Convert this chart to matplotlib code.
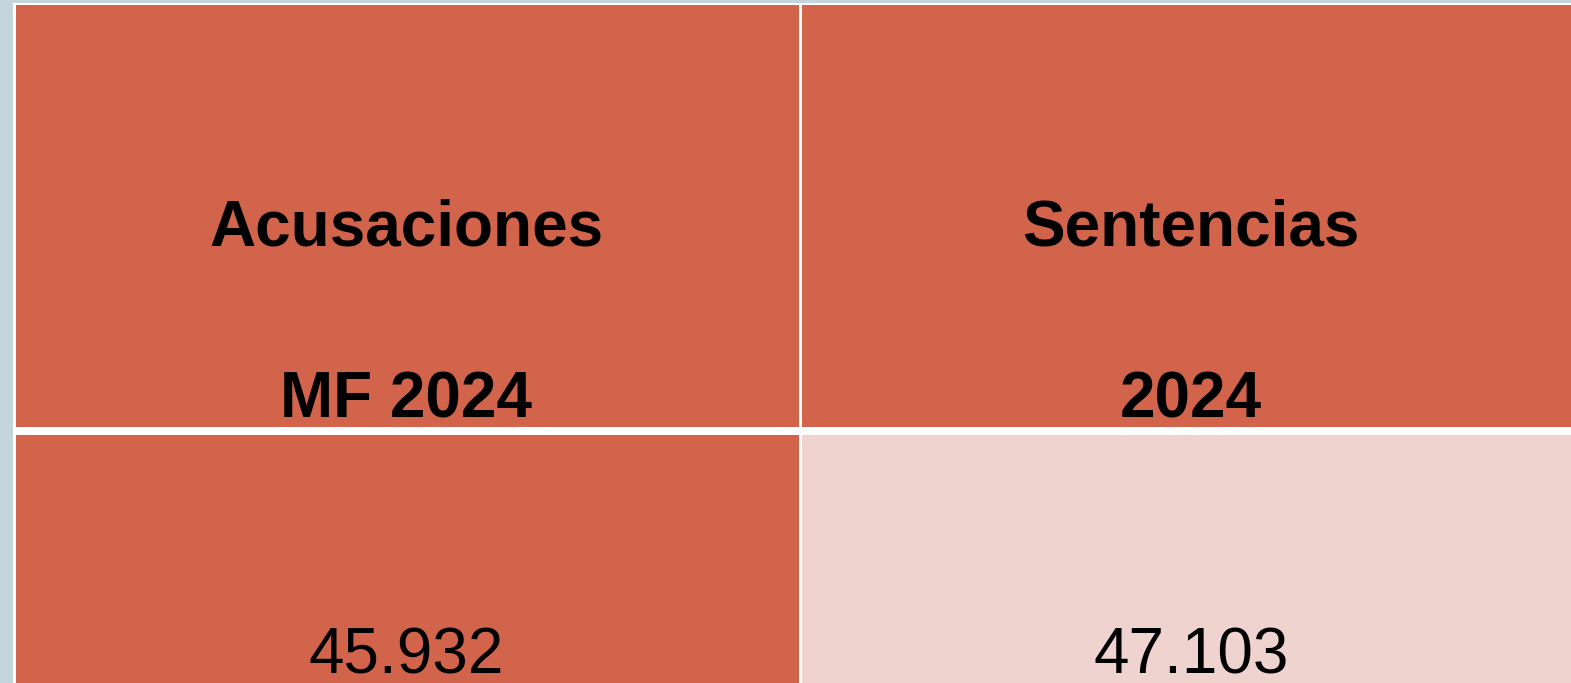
import matplotlib
matplotlib.use("Agg")
import matplotlib.pyplot as plt
from matplotlib.patches import Rectangle

# Data
header_titles = ["Acusaciones", "Sentencias"]
header_subtitles = ["MF 2024", "2024"]
values = [45932, 47103]
value_colors = ["#D2644B", "#EFD3CF"]
header_color = "#D2644B"
bg_color = "#C5D5DD"

W, H = 1571, 683
fig = plt.figure(figsize=(W / 100, H / 100), dpi=100)
fig.patch.set_facecolor(bg_color)
ax = fig.add_axes([0, 0, 1, 1])
ax.set_xlim(0, W)
ax.set_ylim(H, 0)
ax.axis("off")

# white panel
ax.add_patch(Rectangle((13, 3), W, H, facecolor="white", edgecolor="none"))

col_x = [(16, 799), (802, W)]
text_cx = [406, 1191]
row_y = [(5, 427), (435, H)]

def fmt(v):
    return f"{v:,}".replace(",", ".")

for i, (x0, x1) in enumerate(col_x):
    cx = text_cx[i]
    # header
    ax.add_patch(Rectangle((x0, row_y[0][0]), x1 - x0, row_y[0][1] - row_y[0][0],
                           facecolor=header_color, edgecolor="none"))
    ax.text(cx, 245, header_titles[i], ha="center", va="baseline",
            fontsize=46, fontweight="bold", family="Liberation Sans", color="black")
    ax.text(cx, 417, header_subtitles[i], ha="center", va="baseline",
            fontsize=46, fontweight="bold", family="Liberation Sans", color="black")
    # value row
    ax.add_patch(Rectangle((x0, row_y[1][0]), x1 - x0, row_y[1][1] - row_y[1][0],
                           facecolor=value_colors[i], edgecolor="none"))
    ax.text(cx, 673, fmt(values[i]), ha="center", va="baseline",
            fontsize=46, family="Liberation Sans", color="black")

fig.savefig("out.png", dpi=100, facecolor=fig.get_facecolor())
